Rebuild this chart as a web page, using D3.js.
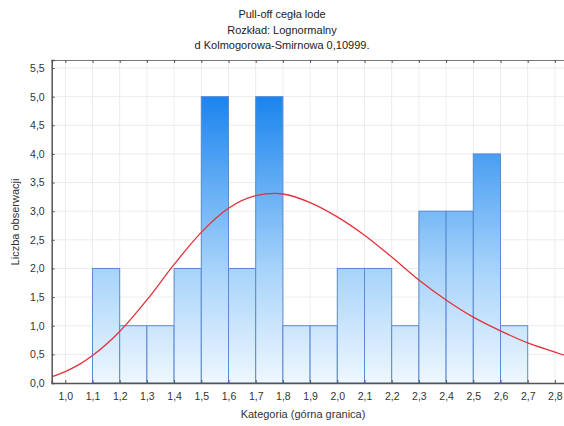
<!DOCTYPE html>
<html>
<head>
<meta charset="utf-8">
<script src="https://cdn.jsdelivr.net/npm/d3@7"></script>
<style>
  html, body { margin: 0; padding: 0; background: #fff; }
  svg { display: block; font-family: "Liberation Sans", Arial, sans-serif; }
</style>
</head>
<body>
<svg id="chart" width="564" height="426"></svg>
<script>
// ---- data ----
const titleLines = ["Pull-off cegła lode", "Rozkład: Lognormalny", "d Kolmogorowa-Smirnowa 0,10999."];
const binStarts = [1.1, 1.2, 1.3, 1.4, 1.5, 1.6, 1.7, 1.8, 1.9, 2.0, 2.1, 2.2, 2.3, 2.4, 2.5, 2.6];
const binWidth = 0.1;
const counts = [2, 1, 1, 2, 5, 2, 5, 1, 1, 2, 2, 1, 3, 3, 4, 1];
const curveX = [0.95, 1.0, 1.05, 1.1, 1.2, 1.3, 1.4, 1.5, 1.6, 1.7, 1.77, 1.8, 1.9, 2.0, 2.1, 2.2, 2.3, 2.4, 2.5, 2.6, 2.7, 2.8, 2.85];
const curveY = [0.11, 0.2, 0.32, 0.48, 0.9, 1.45, 2.07, 2.63, 3.05, 3.27, 3.31, 3.3, 3.15, 2.9, 2.58, 2.2, 1.8, 1.45, 1.15, 0.91, 0.7, 0.54, 0.46];
const xTicks = [1.0, 1.1, 1.2, 1.3, 1.4, 1.5, 1.6, 1.7, 1.8, 1.9, 2.0, 2.1, 2.2, 2.3, 2.4, 2.5, 2.6, 2.7, 2.8];
const yTicks = [0, 0.5, 1.0, 1.5, 2.0, 2.5, 3.0, 3.5, 4.0, 4.5, 5.0, 5.5];
const xTitle = "Kategoria (górna granica)";
const yTitle = "Liczba obserwacji";

// ---- layout ----
const svg = d3.select("#chart");
const pLeft = 51.7, pRight = 568.5, pTop = 60, pBottom = 383;
const x = d3.scaleLinear().domain([0.95, 2.85]).range([pLeft, pRight]);
const y = d3.scaleLinear().domain([0, 5.64]).range([pBottom, pTop]);
const fmt = v => d3.format(".1f")(v).replace(".", ",");

// gradient
const defs = svg.append("defs");
const grad = defs.append("linearGradient").attr("id", "barGrad")
  .attr("gradientUnits", "userSpaceOnUse")
  .attr("x1", 0).attr("x2", 0).attr("y1", y(0)).attr("y2", y(5));
grad.append("stop").attr("offset", 0).attr("stop-color", "#eef7ff");
grad.append("stop").attr("offset", 0.4).attr("stop-color", "#a6d3fa");
grad.append("stop").attr("offset", 1).attr("stop-color", "#1a84ee");
defs.append("clipPath").attr("id", "plotClip").append("rect")
  .attr("x", pLeft).attr("y", pTop).attr("width", pRight - pLeft).attr("height", pBottom - pTop);

// grid
const g = svg.append("g");
g.selectAll("line.vg").data(xTicks).join("line")
  .attr("x1", d => x(d)).attr("x2", d => x(d)).attr("y1", pTop).attr("y2", pBottom)
  .attr("stroke", "#ececec").attr("stroke-width", 1);
g.selectAll("line.hg").data(yTicks.slice(1)).join("line")
  .attr("x1", pLeft).attr("x2", pRight).attr("y1", d => y(d)).attr("y2", d => y(d))
  .attr("stroke", "#ececec").attr("stroke-width", 1);

// bars
svg.append("g").selectAll("rect").data(binStarts).join("rect")
  .attr("x", (d) => x(d))
  .attr("y", (d, i) => y(counts[i]))
  .attr("width", d => x(d + binWidth) - x(d))
  .attr("height", (d, i) => y(0) - y(counts[i]))
  .attr("fill", "url(#barGrad)")
  .attr("stroke", "#5a8ad0").attr("stroke-width", 1);

// curve
const pts = curveX.map((v, i) => [v, curveY[i]]);
svg.append("path").datum(pts)
  .attr("clip-path", "url(#plotClip)")
  .attr("d", d3.line().x(d => x(d[0])).y(d => y(d[1])).curve(d3.curveMonotoneX))
  .attr("fill", "none").attr("stroke", "#e2323c").attr("stroke-width", 1.3);

// axes
const axisColor = "#555";
const xAxis = svg.append("g").attr("transform", `translate(0,${pBottom})`)
  .call(d3.axisBottom(x).tickValues(xTicks).tickSize(-3).tickPadding(10).tickFormat(fmt));
xAxis.select(".domain").attr("stroke", axisColor).attr("stroke-width", 1.5);
xAxis.selectAll(".tick line").attr("stroke", axisColor);
xAxis.selectAll("text").attr("font-size", 10.5).attr("fill", "#333")
  .attr("font-family", "Liberation Sans, Arial, sans-serif");

const xTopAxis = svg.append("g").attr("transform", `translate(0,${pTop})`)
  .call(d3.axisTop(x).tickValues(xTicks).tickSize(-3).tickFormat(""));
xTopAxis.select(".domain").attr("stroke", "#777").attr("stroke-width", 1.2);
xTopAxis.selectAll(".tick line").attr("stroke", axisColor);

const yAxis = svg.append("g").attr("transform", `translate(${pLeft},0)`)
  .call(d3.axisLeft(y).tickValues(yTicks).tickSize(-3).tickPadding(7).tickFormat(fmt));
yAxis.select(".domain").attr("stroke", axisColor).attr("stroke-width", 1.5);
yAxis.selectAll(".tick line").attr("stroke", axisColor);
yAxis.selectAll("text").attr("font-size", 10.5).attr("fill", "#333")
  .attr("font-family", "Liberation Sans, Arial, sans-serif");

// titles
svg.append("g").selectAll("text").data(titleLines).join("text")
  .attr("x", 282).attr("y", (d, i) => 18 + i * 15.5)
  .attr("text-anchor", "middle").attr("font-size", 11).attr("fill", "#222")
  .text(d => d);

svg.append("text").attr("x", 303).attr("y", 418)
  .attr("text-anchor", "middle").attr("font-size", 11).attr("fill", "#333")
  .text(xTitle);

svg.append("text").attr("transform", "translate(19,222) rotate(-90)")
  .attr("text-anchor", "middle").attr("font-size", 11).attr("fill", "#333")
  .text(yTitle);
</script>
</body>
</html>
